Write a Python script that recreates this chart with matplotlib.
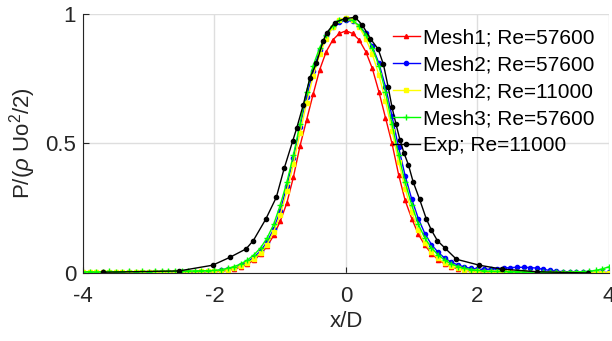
import numpy as np
import matplotlib
matplotlib.use('Agg')
import matplotlib.pyplot as plt

plt.rcParams['font.family'] = ['Liberation Sans', 'DejaVu Sans']
plt.rcParams['mathtext.fontset'] = 'custom'
plt.rcParams['mathtext.rm'] = 'Liberation Sans'
plt.rcParams['mathtext.it'] = 'Liberation Sans:italic'
plt.rcParams['axes.unicode_minus'] = False

# simulation profiles sampled every 0.1 D from -4 to 4
x_sim = np.round(np.arange(-40, 41) / 10, 1)

mesh1_57600 = [
    0.003, 0.004, 0.003, 0.005, 0.004, 0.003, 0.005, 0.004, 0.003, 0.004,
    0.005, 0.004, 0.003, 0.004, 0.004, 0.005, 0.004, 0.005, 0.005, 0.006,
    0.005, 0.007, 0.010, 0.015, 0.023, 0.034, 0.050, 0.072, 0.103, 0.145,
    0.200, 0.270, 0.370, 0.490, 0.590, 0.690, 0.785, 0.855, 0.900, 0.925,
    0.935,
    0.925, 0.900, 0.855, 0.790, 0.700, 0.600, 0.500, 0.380, 0.280, 0.210,
    0.150, 0.107, 0.075, 0.052, 0.035, 0.024, 0.016, 0.011, 0.007, 0.005,
    0.004, 0.003, 0.003, 0.002, 0.002, 0.001, 0.001, 0.001, 0.000, 0.000,
    0.000, -0.001, -0.001, 0.000, 0.000, -0.001, 0.000, 0.000, 0.000, 0.000,
]

mesh2_57600 = [
    0.001, 0.000, 0.001, 0.002, 0.001, 0.000, 0.001, 0.002, 0.001, 0.000,
    0.001, 0.002, 0.002, 0.003, 0.003, 0.003, 0.004, 0.004, 0.005, 0.006,
    0.008, 0.011, 0.015, 0.021, 0.030, 0.043, 0.061, 0.085, 0.120, 0.170,
    0.240, 0.335, 0.445, 0.565, 0.680, 0.780, 0.860, 0.915, 0.950, 0.970,
    0.975,
    0.972, 0.955, 0.925, 0.875, 0.810, 0.720, 0.605, 0.485, 0.375, 0.285,
    0.210, 0.152, 0.110, 0.080, 0.058, 0.042, 0.031, 0.023, 0.018, 0.015,
    0.014, 0.015, 0.017, 0.019, 0.021, 0.022, 0.022, 0.021, 0.019, 0.014,
    0.010, 0.007, 0.005, 0.004, 0.003, 0.002, 0.002, 0.002, 0.002, 0.002,
]

mesh2_11000 = [
    0.002, 0.002, 0.003, 0.002, 0.003, 0.003, 0.002, 0.003, 0.003, 0.003,
    0.004, 0.003, 0.004, 0.004, 0.004, 0.005, 0.005, 0.005, 0.006, 0.006,
    0.007, 0.009, 0.013, 0.018, 0.026, 0.038, 0.055, 0.078, 0.110, 0.160,
    0.225, 0.315, 0.420, 0.540, 0.655, 0.760, 0.845, 0.905, 0.950, 0.975,
    0.985,
    0.975, 0.950, 0.905, 0.845, 0.765, 0.665, 0.550, 0.430, 0.325, 0.235,
    0.165, 0.115, 0.080, 0.056, 0.039, 0.027, 0.019, 0.013, 0.009, 0.007,
    0.005, 0.004, 0.003, 0.003, 0.002, 0.002, 0.002, 0.001, 0.001, 0.001,
    0.001, 0.001, 0.001, 0.001, 0.001, 0.001, 0.001, 0.001, 0.001, 0.001,
]

mesh3_57600 = [
    0.004, 0.005, 0.004, 0.005, 0.006, 0.005, 0.004, 0.006, 0.005, 0.006,
    0.005, 0.006, 0.007, 0.006, 0.007, 0.007, 0.008, 0.008, 0.009, 0.009,
    0.010, 0.013, 0.018, 0.025, 0.035, 0.050, 0.070, 0.097, 0.135, 0.188,
    0.262, 0.350, 0.455, 0.575, 0.700, 0.800, 0.870, 0.920, 0.955, 0.975,
    0.980,
    0.975, 0.955, 0.920, 0.870, 0.800, 0.700, 0.575, 0.455, 0.350, 0.262,
    0.188, 0.135, 0.097, 0.070, 0.050, 0.035, 0.025, 0.018, 0.013, 0.010,
    0.008, 0.007, 0.006, 0.006, 0.005, 0.005, 0.004, 0.004, 0.004, 0.003,
    0.003, 0.003, 0.003, 0.004, 0.004, 0.005, 0.007, 0.010, 0.016, 0.024,
]

# experiment, Re=11000
x_exp = [-3.70, -2.54, -2.03, -1.77, -1.52, -1.41, -1.22, -1.06, -0.94, -0.81,
         -0.75, -0.65, -0.55, -0.45, -0.35, -0.29, -0.17, -0.02, 0.14, 0.25,
         0.37, 0.49, 0.57, 0.64, 0.70, 0.76, 0.82, 0.88, 0.95, 1.02,
         1.12, 1.22, 1.30, 1.39, 1.51, 1.68, 2.03, 2.37, 2.90, 3.68]
p_exp = [0.003, 0.008, 0.030, 0.060, 0.093, 0.125, 0.208, 0.292, 0.404, 0.510,
         0.559, 0.649, 0.752, 0.810, 0.894, 0.928, 0.967, 0.982, 0.987, 0.957,
         0.905, 0.864, 0.805, 0.720, 0.640, 0.575, 0.515, 0.465, 0.417, 0.353,
         0.284, 0.210, 0.165, 0.125, 0.095, 0.053, 0.030, 0.015, 0.005, 0.000]

fig = plt.figure(figsize=(6.12, 3.41), dpi=100)
ax = fig.add_axes([0.1356, 0.1994, 0.8595, 0.7596])

ax.plot(x_sim, mesh1_57600, color='#ff0000', marker='^', lw=1, ms=3, label='Mesh1; Re=57600')
ax.plot(x_sim, mesh2_57600, color='#0000ff', marker='o', lw=1, ms=3, label='Mesh2; Re=57600')
ax.plot(x_sim, mesh2_11000, color='#ffff00', marker='s', lw=1, ms=3.5, label='Mesh2; Re=11000')
ax.plot(x_sim, mesh3_57600, color='#00ff00', marker='+', lw=1, ms=4, mew=1, label='Mesh3; Re=57600')
ax.plot(x_exp, p_exp, color='black', marker='.', lw=1, ms=6, label='Exp; Re=11000')

ax.set_xlim(-4, 4)
ax.set_ylim(0, 1)
ax.set_xticks([-4, -2, 0, 2, 4])
ax.set_yticks([0, 0.5, 1])
ax.set_yticklabels(['0', '0.5', '1'])
ax.grid(True, color='#dedede', lw=1)
ax.set_axisbelow(True)
for s in ['top', 'right']:
    ax.spines[s].set_visible(False)
for s in ['left', 'bottom']:
    ax.spines[s].set_color('#262626')
ax.tick_params(direction='in', length=4, labelsize=16, colors='#262626')
ax.tick_params(axis='x', pad=9)
ax.tick_params(axis='y', pad=5)

ax.set_xlabel('x/D', fontsize=16, color='#262626', labelpad=3)
ax.set_ylabel(r'P/($\rho$ Uo$^2$/2)', fontsize=16, color='#262626', labelpad=5)

ax.legend(loc='upper right', frameon=False, fontsize=15, handlelength=1.3,
          handletextpad=0.15, labelspacing=0.38, borderaxespad=0.3,
          bbox_to_anchor=(1.0, 1.0))

fig.savefig('out.png', dpi=100)
